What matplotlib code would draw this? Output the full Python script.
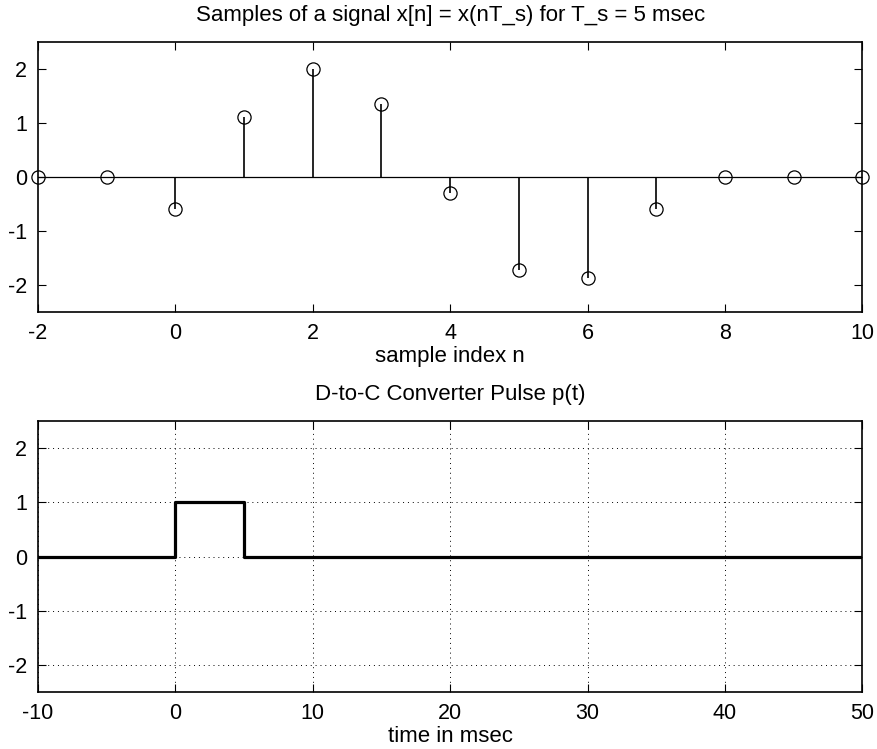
import matplotlib.pyplot as plt

plt.rcParams['font.family'] = ['Liberation Sans', 'DejaVu Sans']
plt.rcParams['font.size'] = 15.5
plt.rcParams['axes.titlesize'] = 16
plt.rcParams['axes.labelsize'] = 16
plt.rcParams['axes.unicode_minus'] = False

n = [-2, -1, 0, 1, 2, 3, 4, 5, 6, 7, 8, 9, 10]
xn = [0, 0, -0.6, 1.12, 2.0, 1.36, -0.3, -1.73, -1.87, -0.6, 0, 0, 0]

t_pulse = [-10, 0, 0, 5, 5, 50]
p_pulse = [0, 0, 1, 1, 0, 0]

fig = plt.figure(figsize=(8.77, 7.49), dpi=100)
ax1 = fig.add_axes([0.0433, 0.5834, 0.940, 0.3605])
ax2 = fig.add_axes([0.0433, 0.0761, 0.940, 0.3618])

# top: stem plot
ax1.axhline(0, color='black', lw=0.9, zorder=1)
ax1.vlines(n, 0, xn, color='black', lw=1.2, zorder=2)
ax1.plot(n, xn, 'o', mfc='none', mec='black', ms=9.5, mew=0.9, zorder=3,
         clip_on=False)
ax1.set_xlim(-2, 10)
ax1.set_ylim(-2.5, 2.5)
ax1.set_xticks([-2, 0, 2, 4, 6, 8, 10])
ax1.set_yticks([-2, -1, 0, 1, 2])
ax1.set_title('Samples of a signal x[n] = x(nT_s) for T_s = 5 msec', pad=15)
ax1.set_xlabel('sample index n', labelpad=1)

# bottom: pulse
ax2.plot(t_pulse, p_pulse, color='black', lw=2.3)
ax2.set_xlim(-10, 50)
ax2.set_ylim(-2.5, 2.5)
ax2.set_xticks([-10, 0, 10, 20, 30, 40, 50])
ax2.set_yticks([-2, -1, 0, 1, 2])
ax2.grid(True, linestyle=(0, (1, 4)), color='black', lw=0.7)
ax2.set_title('D-to-C Converter Pulse p(t)', pad=15)
ax2.set_xlabel('time in msec', labelpad=1)

for ax in (ax1, ax2):
    ax.tick_params(direction='in', top=True, right=True, length=6, width=0.8,
                   pad=8)
    for s in ax.spines.values():
        s.set_linewidth(1.2)

fig.savefig('out.png', dpi=100)
